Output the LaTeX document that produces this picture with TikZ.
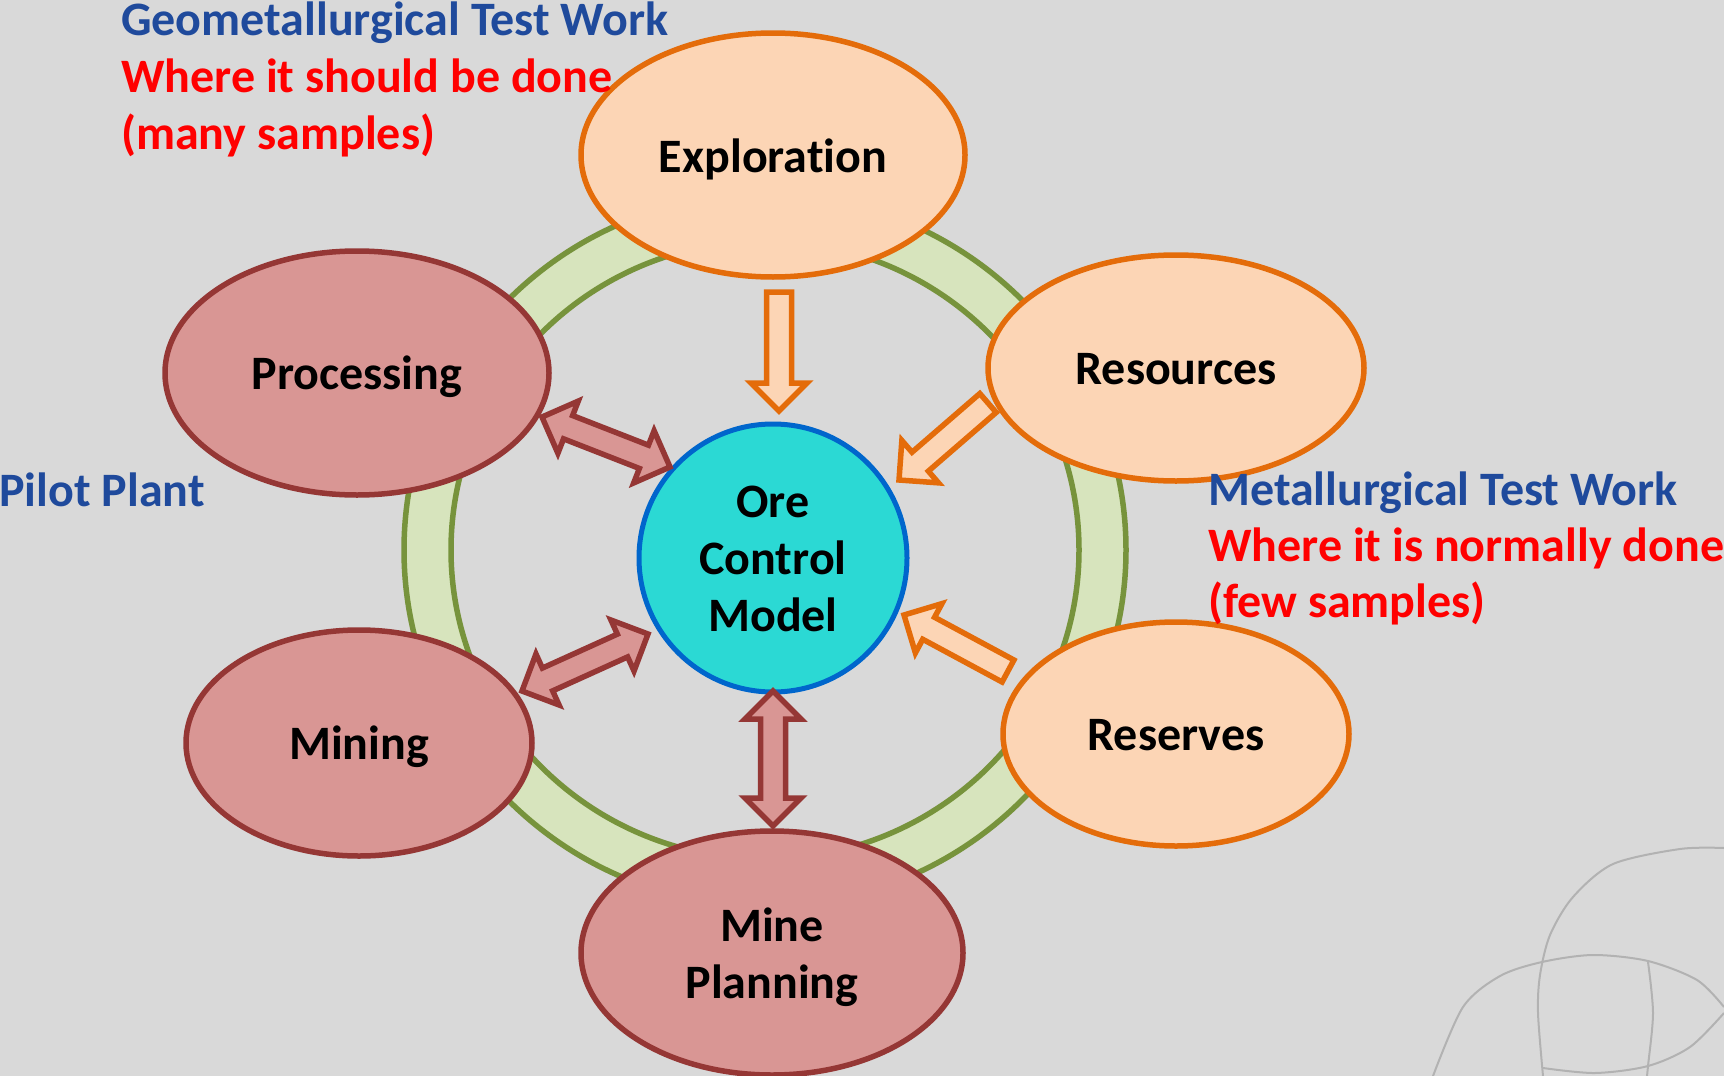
\documentclass[tikz,border=0pt]{standalone}
\usepackage{fontspec}
\setmainfont{Carlito}[Ligatures=NoCommon]
\usetikzlibrary{calc,shapes.geometric}

\definecolor{bg}{HTML}{D9D9D9}
\definecolor{orangefill}{HTML}{FCD5B5}
\definecolor{orangeline}{HTML}{E46C0A}
\definecolor{redfill}{HTML}{D99694}
\definecolor{redline}{HTML}{953735}
\definecolor{tealfill}{HTML}{2BD9D4}
\definecolor{tealline}{HTML}{0066CC}
\definecolor{ringfill}{HTML}{D7E4BD}
\definecolor{ringline}{HTML}{77933C}
\definecolor{titleblue}{HTML}{1F4A9C}
\definecolor{notered}{HTML}{FF0000}
\definecolor{markgray}{HTML}{B2B2B2}

\tikzset{
  txt/.style={font=\fontsize{48}{57}\selectfont\bfseries},
  stagetext/.style={label={[txt, align=center, yshift=-4pt]center:#1}},
  stagetextb/.style={label={[txt, align=center, yshift=-1pt]center:#1}},
  stage/.style={ellipse, inner sep=0pt, line width=5.5pt},
  orangestage/.style={stage, draw=orangeline, fill=orangefill},
  redstage/.style={stage, draw=redline, fill=redfill},
  hub/.style={circle, inner sep=0pt, minimum size=268pt, line width=5pt,
    draw=tealline, fill=tealfill},
  ringstyle/.style={draw=ringline, fill=ringfill, line width=5.5pt, even odd rule},
  orangearrow/.style={draw=orangeline, fill=orangefill, line width=5.5pt, line join=miter},
  redarrow/.style={draw=redline, fill=redfill, line width=5.5pt, line join=miter},
  bluenote/.style={txt, text=titleblue, anchor=base west, inner sep=0pt},
  rednote/.style={txt, text=notered, anchor=base west, inner sep=0pt},
  markline/.style={draw=markgray, line width=2pt},
}

% block arrow with one head: #1 name, #2 tail, #3 tip, #4 style
\newcommand\oneheadarrow[4]{%
  \coordinate (#1h) at ($(#3)!28pt!(#2)$);
  \draw[#4] ($(#2)!12.5pt!90:(#3)$) -- ($(#1h)!12.5pt!90:(#3)$)
    -- ($(#1h)!28pt!90:(#3)$) -- (#3) -- ($(#1h)!28pt!-90:(#3)$)
    -- ($(#1h)!12.5pt!-90:(#3)$) -- ($(#2)!12.5pt!-90:(#3)$) -- cycle;
}
% block arrow with two heads: #1 name, #2 first tip, #3 second tip, #4 style
\newcommand\twoheadarrow[4]{%
  \coordinate (#1a) at ($(#2)!28pt!(#3)$);
  \coordinate (#1b) at ($(#3)!28pt!(#2)$);
  \draw[#4] (#2) -- ($(#1a)!28pt!90:(#3)$) -- ($(#1a)!12.5pt!90:(#3)$)
    -- ($(#1b)!12.5pt!90:(#3)$) -- ($(#1b)!28pt!90:(#3)$) -- (#3)
    -- ($(#1b)!28pt!-90:(#3)$) -- ($(#1b)!12.5pt!-90:(#3)$)
    -- ($(#1a)!12.5pt!-90:(#3)$) -- ($(#1a)!28pt!-90:(#3)$) -- cycle;
}

\begin{document}
\begin{tikzpicture}[x=1pt, y=-1pt]
  % background
  \fill[bg] (0,0) rectangle (1724,1076);
  \useasboundingbox (0,0) rectangle (1724,1076);

  % faint logo lines in the lower right corner
  \draw[markline] plot[smooth] coordinates {(1724,848) (1680,849) (1613,864) (1573,897) (1550,935) (1540,975) (1538,1013) (1543,1076)};
  \draw[markline] plot[smooth] coordinates {(1433,1076) (1463,1007) (1500,976) (1542,962) (1593,955) (1648,961) (1697,980) (1724,1007)};
  \draw[markline] plot[smooth] coordinates {(1724,1013) (1690,1047) (1648,1066) (1595,1073) (1543,1068)};
  \draw[markline] plot[smooth] coordinates {(1648,962) (1653,1013) (1648,1066) (1647,1076)};

  % cycle ring
  \path[ringstyle] (765,550) ellipse [x radius=361pt, y radius=356pt]
                   (765,550) ellipse [x radius=314pt, y radius=309pt];

  % stages
  \node[orangestage, minimum width=384pt, minimum height=244pt, stagetext=Exploration] (expl) at (773,155) {};
  \node[orangestage, minimum width=376pt, minimum height=226pt, stagetextb=Resources] (res) at (1176,368) {};
  \node[orangestage, minimum width=346pt, minimum height=224pt, stagetextb=Reserves] (rsv) at (1176,734) {};
  \node[redstage, minimum width=382pt, minimum height=244pt, stagetext={Mine\\Planning}] (plan) at (772,953) {};
  \node[redstage, minimum width=346pt, minimum height=226pt, stagetext=Mining] (mining) at (359,743) {};
  \node[redstage, minimum width=384pt, minimum height=244pt, stagetext=Processing] (proc) at (357,373) {};

  % central model
  \node[hub, stagetextb={Ore\\Control\\Model}] (ocm) at (773,558) {};

  % arrow end points
  \coordinate (explT) at (779,292);
  \coordinate (explH) at (779,411);
  \coordinate (resT) at (988,403);
  \coordinate (resH) at (899,480);
  \coordinate (rsvT) at (1008,671);
  \coordinate (rsvH) at (904,615);
  \coordinate (procA) at (542,417);
  \coordinate (procB) at (670,467);
  \coordinate (minA) at (648,634);
  \coordinate (minB) at (522,691);
  \coordinate (planA) at (773,691);
  \coordinate (planB) at (773,826);

  % inputs to the model
  \oneheadarrow{ea}{explT}{explH}{orangearrow}
  \oneheadarrow{ra}{resT}{resH}{orangearrow}
  \oneheadarrow{va}{rsvT}{rsvH}{orangearrow}

  % two-way links
  \twoheadarrow{pa}{procA}{procB}{redarrow}
  \twoheadarrow{ma}{minA}{minB}{redarrow}
  \twoheadarrow{la}{planA}{planB}{redarrow}

  % notes
  \node[bluenote] (geo) at (121,35) {Geometallurgical Test Work};
  \node[rednote] (geo2) at (121,92) {Where it should be done};
  \node[rednote] (geo3) at (121,149) {(many samples)};

  \node[bluenote] (pilot) at (-1,506) {Pilot Plant};

  \node[bluenote] (met) at (1208,505) {Metallurgical Test Work};
  \node[rednote] (met2) at (1208,561) {Where it is normally done};
  \node[rednote] (met3) at (1208,617) {(few samples)};
\end{tikzpicture}
\end{document}
